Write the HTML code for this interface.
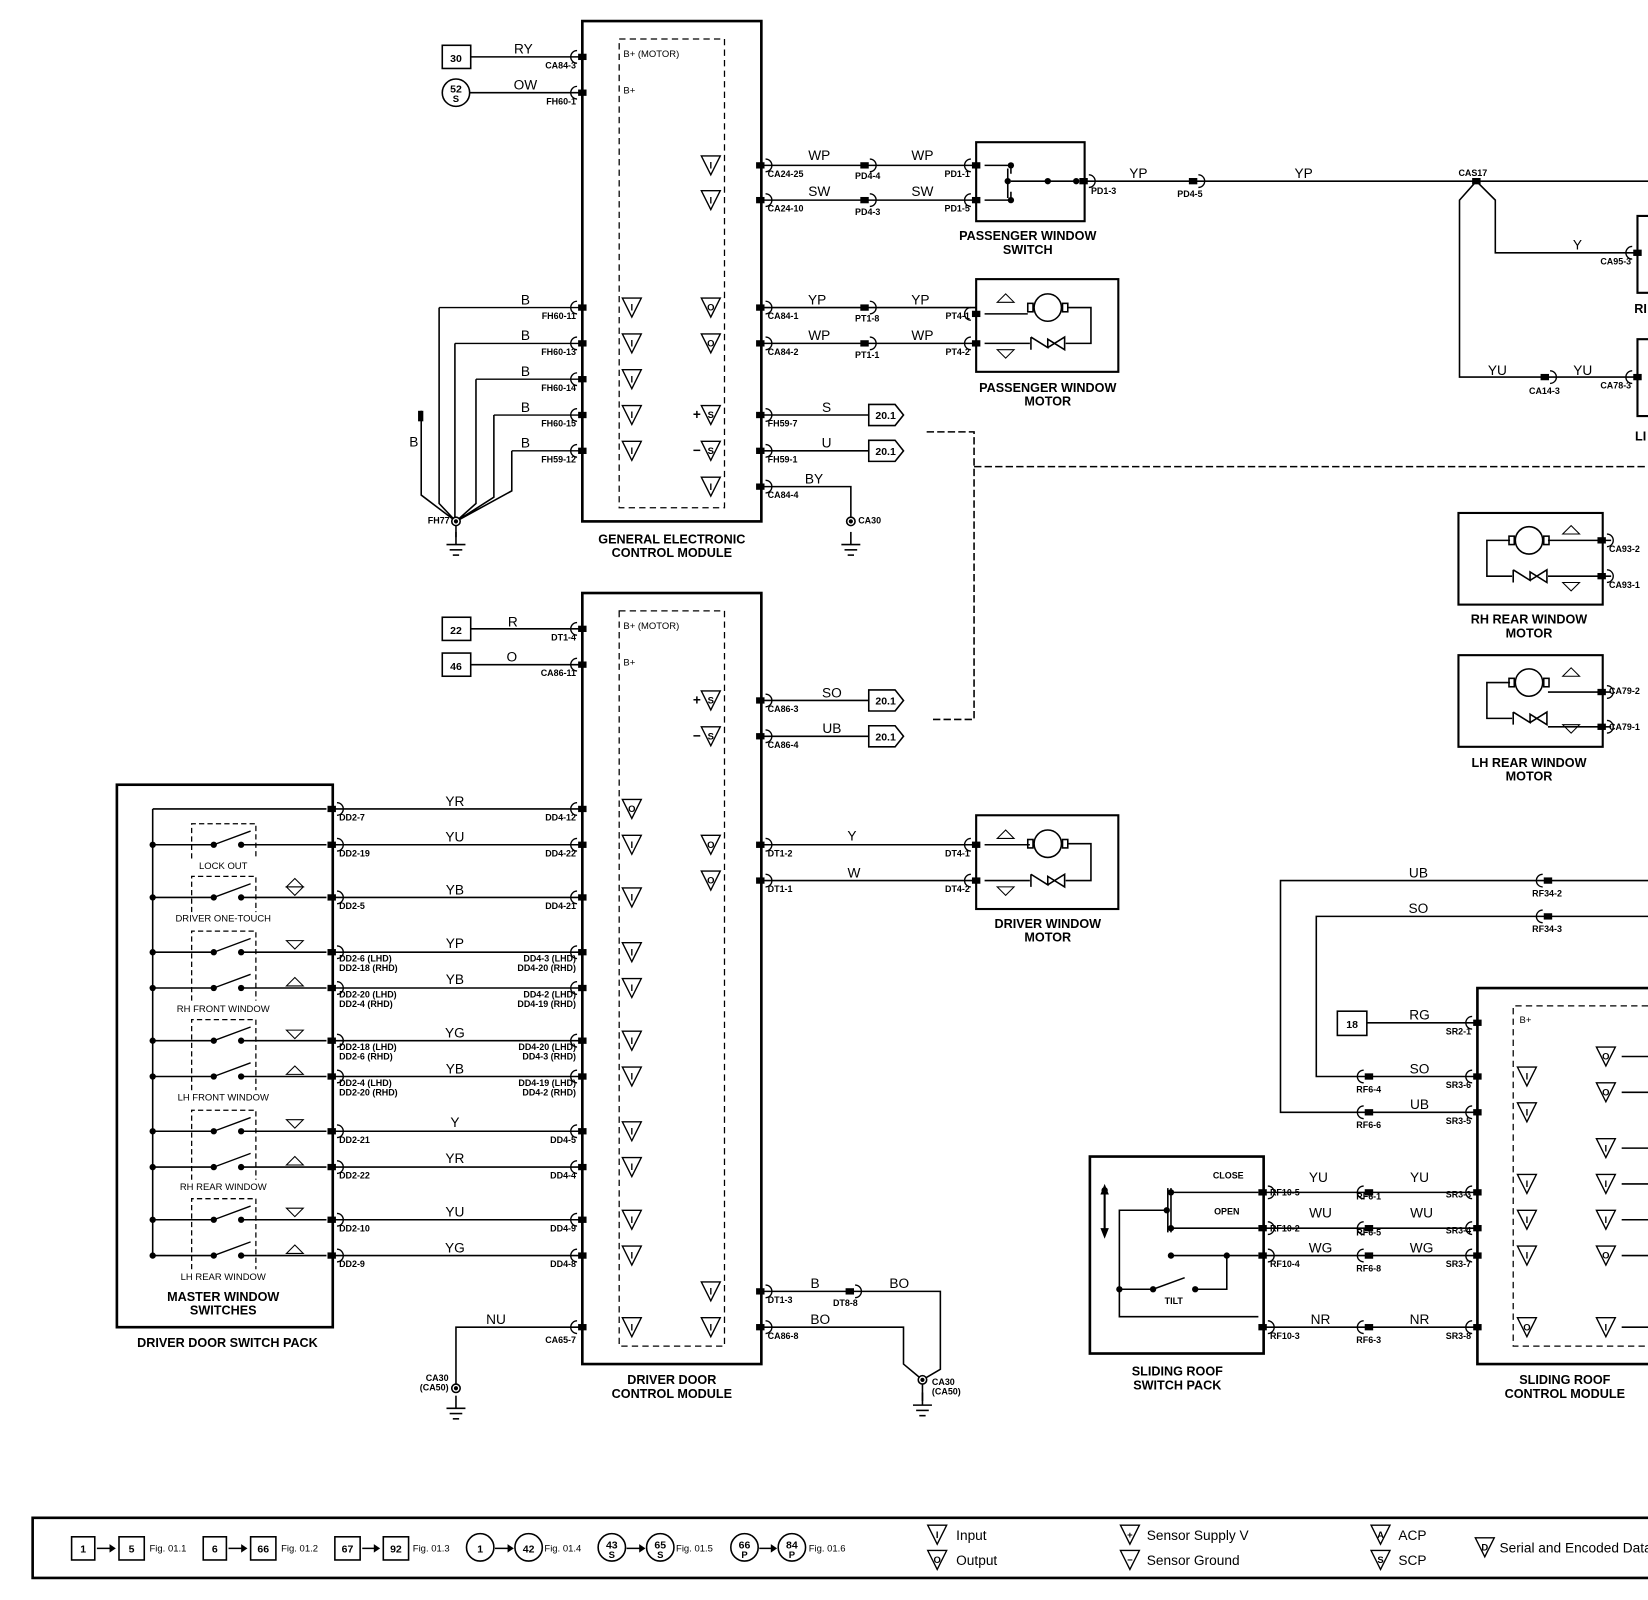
<!DOCTYPE html>
<html><head><meta charset="utf-8"><style>
html,body{margin:0;padding:0;background:#fff}
svg{display:block}
text{font-family:"Liberation Sans",sans-serif;fill:#000}
.w{font-size:13px}
.c{font-size:8.5px;font-weight:bold}
.t{font-size:12px;font-weight:bold}
.s{font-size:9px}
.g{font-size:10px;font-weight:bold}
.lg{font-family:"Liberation Serif",serif;font-size:13px}
</style></head><body>
<svg width="1648" height="1600" viewBox="0 0 1565 1519" preserveAspectRatio="none" xmlns="http://www.w3.org/2000/svg">
<defs>
<g id="pl"><path d="M0,-6 A6,6 0 0 0 0,6" fill="none" stroke="#000" stroke-width="1.3"/><rect x="1" y="-3" width="8" height="6"/></g>
<g id="pr"><rect x="-9" y="-3" width="8" height="6"/><path d="M0,-6 A6,6 0 0 1 0,6" fill="none" stroke="#000" stroke-width="1.3"/></g>
<g id="cr"><rect x="-9" y="-3" width="8" height="6"/><path d="M0,-6 A6,6 0 0 1 0,6" fill="none" stroke="#000" stroke-width="1.3"/></g>
<g id="tr"><polygon points="-9,-9 9,-9 0,9" fill="#fff" stroke="#000" stroke-width="1.3"/></g>
<g id="gnd"><line x1="0" y1="0" x2="0" y2="12" stroke="#000" stroke-width="1.5"/><line x1="-9" y1="12" x2="9" y2="12" stroke="#000" stroke-width="1.5"/><line x1="-6" y1="17" x2="6" y2="17" stroke="#000" stroke-width="1.5"/><line x1="-3" y1="22" x2="3" y2="22" stroke="#000" stroke-width="1.5"/></g>
<g id="dt"><circle r="3"/></g>
<g id="ar"><polygon points="-8,-4 8,-4 0,4" fill="none" stroke="#000"/></g>
<g id="au"><polygon points="-8,4 8,4 0,-4" fill="none" stroke="#000"/></g>
</defs>

<g stroke="#000" fill="none" stroke-width="1.5">
<rect x="553" y="20" width="170" height="475" stroke-width="2.5"/>
<rect x="588" y="37" width="100" height="445" stroke-dasharray="6,4" stroke-width="1.2"/>
<rect x="553" y="563" width="170" height="732" stroke-width="2.5"/>
<rect x="588" y="580" width="100" height="698" stroke-dasharray="6,4" stroke-width="1.2"/>
<rect x="420" y="43" width="27" height="22"/>
<circle cx="433" cy="88" r="13"/>
<rect x="420" y="586" width="27" height="22"/>
<rect x="420" y="620" width="27" height="22"/>
<rect x="1270" y="960" width="28" height="23"/>
<rect x="927" y="135" width="103" height="75" stroke-width="2"/>
<rect x="927" y="265" width="135" height="88" stroke-width="2"/>
<rect x="927" y="774" width="135" height="89" stroke-width="2"/>
<rect x="111" y="745" width="205" height="515" stroke-width="2.5"/>
<rect x="1035" y="1098" width="165" height="187" stroke-width="2.5"/>
<path d="M1565,938 H1403 V1295 H1565" stroke-width="2.5"/>
<path d="M1565,955 H1437 V1278 H1565" stroke-dasharray="6,4" stroke-width="1.2"/>
<rect x="1385" y="487" width="137" height="87" stroke-width="2"/>
<rect x="1385" y="622" width="137" height="87" stroke-width="2"/>
<path d="M1565,205 H1555 V278 H1565 M1565,322 H1555 V395 H1565" stroke-width="2"/>

<path d="M447,54 H553 M446,88 H553"/>
<path d="M417,292 H553 M432,326 H553 M452,360 H553 M469,394 H553 M486,428 H553" stroke-width="1.3"/>
<path d="M417,292 V478 L433,495 M432,326 V495 M452,360 V478 L433,495 M469,394 V472 L433,495 M486,428 V466 L433,495 M400,390 V470 L433,495"/>
<path d="M433,495 V510"/>
<path d="M723,157 H927 M723,190 H927 M723,292 H927 M723,326 H927 M723,394 H825 M723,428 H825 M723,462 H808 V495"/>
<path d="M935,157 H960 V165 M935,190 H960 V182 M960,172 H1022 M957,160 V188"/>
<path d="M1030,172 H1565"/>
<path d="M1402,172 L1386,190 V358 H1555 M1402,172 L1420,190 V240 H1555"/>
<path d="M825,384 H850 L858,394 L850,404 H825 Z M825,418 H850 L858,428 L850,438 H825 Z M825,655 H850 L858,665 L850,675 H825 Z M825,689 H850 L858,699 L850,709 H825 Z"/>
<path d="M880,410 H925 V683 H885 M925,443 H1565" stroke-dasharray="7,3"/>
<g>
<circle cx="995" cy="292" r="13"/><rect x="1009" y="288" width="5" height="8"/><rect x="976" y="288" width="5" height="8"/>
<path d="M935,298 H976 M1014,292 H1036 V326 H1012 M935,326 H978"/>
<path d="M979,320 L995,330 V322 L1011,332 V320 L995,330 M979,332 V320" />
</g>
<g>
<circle cx="995" cy="801" r="13"/><rect x="1009" y="797" width="5" height="8"/><rect x="976" y="797" width="5" height="8"/>
<path d="M935,802 H978 M1014,801 H1036 V836 H1012 M935,836 H978"/>
<path d="M979,830 L995,840 V832 L1011,842 V830 L995,840 M979,842 V830"/>
</g>
<g>
<circle cx="1452" cy="513" r="13"/><rect x="1433" y="509" width="5" height="8"/><rect x="1466" y="509" width="5" height="8"/>
<path d="M1434,513 H1412 V547 H1436 M1470,513 H1530 M1470,547 H1530"/>
<path d="M1437,541 L1453,551 V543 L1469,553 V541 L1453,551 M1437,553 V541"/>
</g>
<g>
<circle cx="1452" cy="648" r="13"/><rect x="1433" y="644" width="5" height="8"/><rect x="1466" y="644" width="5" height="8"/>
<path d="M1434,648 H1412 V682 H1436 M1470,657 H1530 M1470,690 H1530"/>
<path d="M1437,676 L1453,686 V678 L1469,688 V676 L1453,686 M1437,688 V676"/>
</g>
<path d="M447,597 H553 M447,631 H553"/>
<path d="M723,665 H825 M723,699 H825 M723,802 H927 M723,836 H927"/>
<path d="M723,1226 H893 V1300 L876,1310 M723,1260 H858 V1295 L876,1310 M553,1260 H433 V1318"/>
<path d="M876,1310 V1330"/>
<path d="M316,768 H553 M316,802 H553 M316,852 H553 M316,904 H553 M316,938 H553 M316,988 H553 M316,1022 H553 M316,1074 H553 M316,1108 H553 M316,1158 H553 M316,1192 H553"/>
<path d="M145,768 V1192 M145,768 H310"/>
<path d="M145,802 H203 M229,802 H310 M145,852 H203 M229,852 H310 M145,904 H203 M229,904 H310 M145,938 H203 M229,938 H310 M145,988 H203 M229,988 H310 M145,1022 H203 M229,1022 H310 M145,1074 H203 M229,1074 H310 M145,1108 H203 M229,1108 H310 M145,1158 H203 M229,1158 H310 M145,1192 H203 M229,1192 H310"/>
<path d="M203,802 L238,789 M203,852 L238,839 M203,904 L238,891 M203,938 L238,925 M203,988 L238,975 M203,1022 L238,1009 M203,1074 L238,1061 M203,1108 L238,1095 M203,1158 L238,1145 M203,1192 L238,1179" stroke-width="1.3"/>
<g stroke-dasharray="5,3" stroke-width="1.2">
<path d="M182,815 V782 H243 V815"/><path d="M182,866 V832 H243 V866"/><path d="M182,950 V884 H243 V950"/><path d="M182,1035 V968 H243 V1035"/><path d="M182,1120 V1054 H243 V1120"/><path d="M182,1205 V1138 H243 V1205"/>
</g>
<path d="M1565,836 H1216 V1056 H1403 M1565,870 H1250 V1022 H1403 M1298,971 H1403"/>
<path d="M1200,1132 H1403 M1200,1166 H1403 M1200,1192 H1403 M1200,1260 H1403"/>
<path d="M1112,1132 H1195 M1112,1166 H1195 M1112,1128 V1170 M1109,1128 V1170 M1108,1149 H1063 V1250 H1195 M1063,1224 H1095 L1125,1213 M1135,1224 H1165 V1192 H1195 M1112,1192 H1165"/>
<path d="M1049,1130 V1170" stroke-width="2"/>
<path d="M1540,1003 H1565 M1540,1037 H1565 M1540,1090 H1565 M1540,1124 H1565 M1540,1158 H1565 M1540,1192 H1565 M1540,1260 H1565"/>
<path d="M1565,1441 H31 V1498 H1565" stroke-width="2.5"/>
<rect x="68" y="1459" width="22" height="22"/><rect x="113" y="1459" width="24" height="22"/>
<rect x="193" y="1459" width="22" height="22"/><rect x="238" y="1459" width="24" height="22"/>
<rect x="318" y="1459" width="24" height="22"/><rect x="364" y="1459" width="24" height="22"/>
<circle cx="456" cy="1469" r="13"/><circle cx="502" cy="1469" r="13"/>
<circle cx="581" cy="1469" r="13"/><circle cx="627" cy="1469" r="13"/>
<circle cx="707" cy="1469" r="13"/><circle cx="752" cy="1469" r="13"/>
<path d="M92,1470 H108 M217,1470 H233 M344,1470 H359 M470,1470 H486 M595,1470 H611 M721,1470 H736"/>
</g>
<g>
<use href="#dt" x="1049" y="1130"/>
<polygon points="104,1466 110,1470 104,1474"/><polygon points="229,1466 235,1470 229,1474"/><polygon points="355,1466 361,1470 355,1474"/><polygon points="482,1466 488,1470 482,1474"/><polygon points="607,1466 613,1470 607,1474"/><polygon points="732,1466 738,1470 732,1474"/>
<polygon points="1045,1134 1049,1124 1053,1134"/><polygon points="1045,1166 1049,1176 1053,1166"/>
<rect x="397" y="390" width="5" height="10"/>
<circle cx="433" cy="495" r="4" fill="#fff" stroke="#000" stroke-width="1.5"/><circle cx="433" cy="495" r="2"/>
<circle cx="808" cy="495" r="4" fill="#fff" stroke="#000" stroke-width="1.5"/><circle cx="808" cy="495" r="2"/>
<circle cx="876" cy="1310" r="4" fill="#fff" stroke="#000" stroke-width="1.5"/><circle cx="876" cy="1310" r="2"/>
<circle cx="433" cy="1318" r="4" fill="#fff" stroke="#000" stroke-width="1.5"/><circle cx="433" cy="1318" r="2"/>
<rect x="1398" y="169" width="8" height="6"/>
<use href="#dt" x="960" y="157"/><use href="#dt" x="960" y="190"/><use href="#dt" x="995" y="172"/><use href="#dt" x="1022" y="172"/><use href="#dt" x="957" y="172"/>
<use href="#dt" x="145" y="802"/><use href="#dt" x="145" y="852"/><use href="#dt" x="145" y="904"/><use href="#dt" x="145" y="938"/><use href="#dt" x="145" y="988"/><use href="#dt" x="145" y="1022"/><use href="#dt" x="145" y="1074"/><use href="#dt" x="145" y="1108"/><use href="#dt" x="145" y="1158"/><use href="#dt" x="145" y="1192"/>
<use href="#dt" x="203" y="802"/><use href="#dt" x="229" y="802"/><use href="#dt" x="203" y="852"/><use href="#dt" x="229" y="852"/><use href="#dt" x="203" y="904"/><use href="#dt" x="229" y="904"/><use href="#dt" x="203" y="938"/><use href="#dt" x="229" y="938"/><use href="#dt" x="203" y="988"/><use href="#dt" x="229" y="988"/><use href="#dt" x="203" y="1022"/><use href="#dt" x="229" y="1022"/><use href="#dt" x="203" y="1074"/><use href="#dt" x="229" y="1074"/><use href="#dt" x="203" y="1108"/><use href="#dt" x="229" y="1108"/><use href="#dt" x="203" y="1158"/><use href="#dt" x="229" y="1158"/><use href="#dt" x="203" y="1192"/><use href="#dt" x="229" y="1192"/>
<use href="#dt" x="1112" y="1132"/><use href="#dt" x="1112" y="1166"/><use href="#dt" x="1108" y="1149"/><use href="#dt" x="1112" y="1192"/><use href="#dt" x="1165" y="1192"/><use href="#dt" x="1063" y="1224"/><use href="#dt" x="1095" y="1224"/><use href="#dt" x="1135" y="1224"/>
</g>
<use href="#gnd" x="433" y="505"/><use href="#gnd" x="808" y="505"/><use href="#gnd" x="876" y="1322"/><use href="#gnd" x="433" y="1325"/>
<g>
<use href="#pl" x="548" y="54"/><use href="#pl" x="548" y="88"/><use href="#pl" x="548" y="292"/><use href="#pl" x="548" y="326"/><use href="#pl" x="548" y="360"/><use href="#pl" x="548" y="394"/><use href="#pl" x="548" y="428"/>
<use href="#pl" x="548" y="597"/><use href="#pl" x="548" y="631"/><use href="#pl" x="548" y="768"/><use href="#pl" x="548" y="802"/><use href="#pl" x="548" y="852"/><use href="#pl" x="548" y="904"/><use href="#pl" x="548" y="938"/><use href="#pl" x="548" y="988"/><use href="#pl" x="548" y="1022"/><use href="#pl" x="548" y="1074"/><use href="#pl" x="548" y="1108"/><use href="#pl" x="548" y="1158"/><use href="#pl" x="548" y="1192"/><use href="#pl" x="548" y="1260"/>
<use href="#pl" x="922" y="157"/><use href="#pl" x="922" y="190"/><use href="#pl" x="922" y="298"/><use href="#pl" x="922" y="326"/><use href="#pl" x="922" y="802"/><use href="#pl" x="922" y="836"/>
<use href="#pl" x="1398" y="971"/><use href="#pl" x="1398" y="1022"/><use href="#pl" x="1398" y="1056"/><use href="#pl" x="1398" y="1132"/><use href="#pl" x="1398" y="1166"/><use href="#pl" x="1398" y="1192"/><use href="#pl" x="1398" y="1260"/>
<use href="#pl" x="1550" y="240"/><use href="#pl" x="1550" y="358"/>
<use href="#pl" x="1295" y="1022"/><use href="#pl" x="1295" y="1056"/><use href="#pl" x="1295" y="1132"/><use href="#pl" x="1295" y="1166"/><use href="#pl" x="1295" y="1192"/><use href="#pl" x="1295" y="1260"/>
<use href="#pl" x="1465" y="836"/><use href="#pl" x="1465" y="870"/>
<use href="#pr" x="727" y="157"/><use href="#pr" x="727" y="190"/><use href="#pr" x="727" y="292"/><use href="#pr" x="727" y="326"/><use href="#pr" x="727" y="394"/><use href="#pr" x="727" y="428"/><use href="#pr" x="727" y="462"/>
<use href="#pr" x="727" y="665"/><use href="#pr" x="727" y="699"/><use href="#pr" x="727" y="802"/><use href="#pr" x="727" y="836"/><use href="#pr" x="727" y="1226"/><use href="#pr" x="727" y="1260"/>
<use href="#pr" x="1034" y="172"/><use href="#pr" x="1526" y="513"/><use href="#pr" x="1526" y="547"/><use href="#pr" x="1526" y="657"/><use href="#pr" x="1526" y="690"/>
<use href="#pr" x="320" y="768"/><use href="#pr" x="320" y="802"/><use href="#pr" x="320" y="852"/><use href="#pr" x="320" y="904"/><use href="#pr" x="320" y="938"/><use href="#pr" x="320" y="988"/><use href="#pr" x="320" y="1022"/><use href="#pr" x="320" y="1074"/><use href="#pr" x="320" y="1108"/><use href="#pr" x="320" y="1158"/><use href="#pr" x="320" y="1192"/>
<use href="#pr" x="1204" y="1132"/><use href="#pr" x="1204" y="1166"/><use href="#pr" x="1204" y="1192"/><use href="#pr" x="1204" y="1260"/>
<use href="#cr" x="826" y="157"/><use href="#cr" x="826" y="190"/><use href="#cr" x="826" y="292"/><use href="#cr" x="826" y="326"/><use href="#cr" x="1138" y="172"/><use href="#cr" x="1472" y="358"/><use href="#cr" x="812" y="1226"/>
</g>
<g>
<use href="#tr" x="600" y="292"/><use href="#tr" x="600" y="326"/><use href="#tr" x="600" y="360"/><use href="#tr" x="600" y="394"/><use href="#tr" x="600" y="428"/>
<use href="#tr" x="675" y="157"/><use href="#tr" x="675" y="190"/><use href="#tr" x="675" y="292"/><use href="#tr" x="675" y="326"/><use href="#tr" x="675" y="394"/><use href="#tr" x="675" y="428"/><use href="#tr" x="675" y="462"/>
<use href="#tr" x="600" y="768"/><use href="#tr" x="600" y="802"/><use href="#tr" x="600" y="852"/><use href="#tr" x="600" y="904"/><use href="#tr" x="600" y="938"/><use href="#tr" x="600" y="988"/><use href="#tr" x="600" y="1022"/><use href="#tr" x="600" y="1074"/><use href="#tr" x="600" y="1108"/><use href="#tr" x="600" y="1158"/><use href="#tr" x="600" y="1192"/><use href="#tr" x="600" y="1260"/>
<use href="#tr" x="675" y="665"/><use href="#tr" x="675" y="699"/><use href="#tr" x="675" y="802"/><use href="#tr" x="675" y="836"/><use href="#tr" x="675" y="1226"/><use href="#tr" x="675" y="1260"/>
<use href="#tr" x="1450" y="1022"/><use href="#tr" x="1450" y="1056"/><use href="#tr" x="1450" y="1124"/><use href="#tr" x="1450" y="1158"/><use href="#tr" x="1450" y="1192"/><use href="#tr" x="1450" y="1260"/>
<use href="#tr" x="1525" y="1003"/><use href="#tr" x="1525" y="1037"/><use href="#tr" x="1525" y="1090"/><use href="#tr" x="1525" y="1124"/><use href="#tr" x="1525" y="1158"/><use href="#tr" x="1525" y="1192"/><use href="#tr" x="1525" y="1260"/>
<use href="#tr" x="890" y="1457"/><use href="#tr" x="890" y="1481"/><use href="#tr" x="1073" y="1457"/><use href="#tr" x="1073" y="1481"/><use href="#tr" x="1311" y="1457"/><use href="#tr" x="1311" y="1481"/><use href="#tr" x="1410" y="1469"/>
<use href="#au" x="955" y="283"/><use href="#ar" x="955" y="336"/><use href="#au" x="955" y="792"/><use href="#ar" x="955" y="846"/>
<use href="#au" x="1492" y="503"/><use href="#ar" x="1492" y="557"/><use href="#au" x="1492" y="638"/><use href="#ar" x="1492" y="692"/>
<use href="#au" x="280" y="838"/><use href="#ar" x="280" y="846"/>
<use href="#ar" x="280" y="897"/><use href="#au" x="280" y="932"/><use href="#ar" x="280" y="982"/><use href="#au" x="280" y="1016"/><use href="#ar" x="280" y="1067"/><use href="#au" x="280" y="1102"/><use href="#ar" x="280" y="1151"/><use href="#au" x="280" y="1186"/>
</g>
<g class="s" text-anchor="middle" font-weight="bold">
<text x="600" y="295">I</text><text x="600" y="329">I</text><text x="600" y="363">I</text><text x="600" y="397">I</text><text x="600" y="431">I</text>
<text x="675" y="160">I</text><text x="675" y="193">I</text><text x="675" y="295">O</text><text x="675" y="329">O</text><text x="675" y="397">S</text><text x="675" y="431">S</text><text x="675" y="465">I</text>
<text x="600" y="771">O</text><text x="600" y="805">I</text><text x="600" y="855">I</text><text x="600" y="907">I</text><text x="600" y="941">I</text><text x="600" y="991">I</text><text x="600" y="1025">I</text><text x="600" y="1077">I</text><text x="600" y="1111">I</text><text x="600" y="1161">I</text><text x="600" y="1195">I</text><text x="600" y="1263">I</text>
<text x="675" y="668">S</text><text x="675" y="702">S</text><text x="675" y="805">O</text><text x="675" y="839">O</text><text x="675" y="1229">I</text><text x="675" y="1263">I</text>
<text x="1450" y="1025">I</text><text x="1450" y="1059">I</text><text x="1450" y="1127">I</text><text x="1450" y="1161">I</text><text x="1450" y="1195">I</text><text x="1450" y="1263">O</text>
<text x="1525" y="1006">O</text><text x="1525" y="1040">O</text><text x="1525" y="1093">I</text><text x="1525" y="1127">I</text><text x="1525" y="1161">I</text><text x="1525" y="1195">O</text><text x="1525" y="1263">I</text>
<text x="890" y="1460">I</text><text x="890" y="1484">O</text><text x="1073" y="1460">+</text><text x="1073" y="1484">−</text><text x="1311" y="1460">A</text><text x="1311" y="1484">S</text><text x="1410" y="1472">D</text>
</g>
<g class="w" font-weight="bold"><text x="658" y="398">+</text><text x="658" y="432">−</text><text x="658" y="669">+</text><text x="658" y="703">−</text></g>

<g class="s"><text x="592" y="54">B+ (MOTOR)</text><text x="592" y="89">B+</text><text x="592" y="597">B+ (MOTOR)</text><text x="592" y="632">B+</text><text x="1443" y="971">B+</text></g>
<g class="g" text-anchor="middle"><text x="433" y="59">30</text><text x="433" y="88">52</text><text x="433" y="97" class="s">S</text><text x="433" y="602">22</text><text x="433" y="636">46</text><text x="1284" y="976">18</text>
<text x="841" y="398">20.1</text><text x="841" y="432">20.1</text><text x="841" y="669">20.1</text><text x="841" y="703">20.1</text></g>

<g class="w" text-anchor="middle">
<text x="497" y="51">RY</text><text x="499" y="85">OW</text>
<text x="499" y="289">B</text><text x="499" y="323">B</text><text x="499" y="357">B</text><text x="499" y="391">B</text><text x="499" y="425">B</text><text x="393" y="424">B</text>
<text x="778" y="152">WP</text><text x="876" y="152">WP</text><text x="778" y="186">SW</text><text x="876" y="186">SW</text>
<text x="776" y="289">YP</text><text x="874" y="289">YP</text><text x="778" y="323">WP</text><text x="876" y="323">WP</text>
<text x="785" y="391">S</text><text x="785" y="425">U</text><text x="773" y="459">BY</text>
<text x="1081" y="169">YP</text><text x="1238" y="169">YP</text><text x="1498" y="237">Y</text><text x="1422" y="356">YU</text><text x="1503" y="356">YU</text>
<text x="487" y="595">R</text><text x="486" y="628">O</text>
<text x="790" y="662">SO</text><text x="790" y="696">UB</text><text x="809" y="798">Y</text><text x="811" y="833">W</text>
<text x="774" y="1223">B</text><text x="854" y="1223">BO</text><text x="779" y="1257">BO</text><text x="471" y="1257">NU</text>
<text x="432" y="765">YR</text><text x="432" y="799">YU</text><text x="432" y="849">YB</text><text x="432" y="900">YP</text><text x="432" y="934">YB</text><text x="432" y="985">YG</text><text x="432" y="1019">YB</text><text x="432" y="1070">Y</text><text x="432" y="1104">YR</text><text x="432" y="1155">YU</text><text x="432" y="1189">YG</text>
<text x="1347" y="833">UB</text><text x="1347" y="867">SO</text><text x="1348" y="968">RG</text><text x="1348" y="1019">SO</text><text x="1348" y="1053">UB</text>
<text x="1252" y="1122">YU</text><text x="1348" y="1122">YU</text><text x="1254" y="1156">WU</text><text x="1350" y="1156">WU</text><text x="1254" y="1189">WG</text><text x="1350" y="1189">WG</text><text x="1254" y="1257">NR</text><text x="1348" y="1257">NR</text>
</g>

<g class="c" text-anchor="end">
<text x="547" y="65">CA84-3</text><text x="547" y="99">FH60-1</text>
<text x="547" y="303">FH60-11</text><text x="547" y="337">FH60-13</text><text x="547" y="371">FH60-14</text><text x="547" y="405">FH60-15</text><text x="547" y="439">FH59-12</text>
<text x="427" y="497">FH77</text>
<text x="547" y="608">DT1-4</text><text x="547" y="642">CA86-11</text>
<text x="921" y="168">PD1-1</text><text x="921" y="201">PD1-5</text><text x="921" y="303">PT4-1</text><text x="921" y="337">PT4-2</text><text x="921" y="813">DT4-1</text><text x="921" y="847">DT4-2</text>
<text x="1549" y="251">CA95-3</text><text x="1549" y="369">CA78-3</text>
<text x="547" y="779">DD4-12</text><text x="547" y="813">DD4-22</text><text x="547" y="863">DD4-21</text>
<text x="547" y="913">DD4-3 (LHD)</text><text x="547" y="922">DD4-20 (RHD)</text><text x="547" y="947">DD4-2 (LHD)</text><text x="547" y="956">DD4-19 (RHD)</text>
<text x="547" y="997">DD4-20 (LHD)</text><text x="547" y="1006">DD4-3 (RHD)</text><text x="547" y="1031">DD4-19 (LHD)</text><text x="547" y="1040">DD4-2 (RHD)</text>
<text x="547" y="1085">DD4-5</text><text x="547" y="1119">DD4-4</text><text x="547" y="1169">DD4-9</text><text x="547" y="1203">DD4-8</text><text x="547" y="1275">CA65-7</text>
<text x="426" y="1311">CA30</text><text x="426" y="1320">(CA50)</text>
<text x="1397" y="982">SR2-1</text><text x="1397" y="1033">SR3-6</text><text x="1397" y="1067">SR3-5</text><text x="1397" y="1137">SR3-3</text><text x="1397" y="1171">SR3-4</text><text x="1397" y="1203">SR3-7</text><text x="1397" y="1271">SR3-8</text>
<text x="1181" y="1119">CLOSE</text><text x="1177" y="1153">OPEN</text>
</g>
<g class="c">
<text x="729" y="168">CA24-25</text><text x="729" y="201">CA24-10</text><text x="729" y="303">CA84-1</text><text x="729" y="337">CA84-2</text><text x="729" y="405">FH59-7</text><text x="729" y="439">FH59-1</text><text x="729" y="473">CA84-4</text>
<text x="815" y="497">CA30</text>
<text x="729" y="676">CA86-3</text><text x="729" y="710">CA86-4</text><text x="729" y="813">DT1-2</text><text x="729" y="847">DT1-1</text><text x="729" y="1237">DT1-3</text><text x="729" y="1271">CA86-8</text>
<text x="885" y="1315">CA30</text><text x="885" y="1324">(CA50)</text>
<text x="812" y="170">PD4-4</text><text x="812" y="204">PD4-3</text><text x="812" y="305">PT1-8</text><text x="812" y="340">PT1-1</text><text x="1036" y="184">PD1-3</text><text x="1118" y="187">PD4-5</text>
<text x="1385" y="167">CAS17</text><text x="1452" y="374">CA14-3</text><text x="791" y="1240">DT8-8</text>
<text x="1528" y="524">CA93-2</text><text x="1528" y="558">CA93-1</text><text x="1528" y="659">CA79-2</text><text x="1528" y="693">CA79-1</text>
<text x="322" y="779">DD2-7</text><text x="322" y="813">DD2-19</text><text x="322" y="863">DD2-5</text>
<text x="322" y="913">DD2-6 (LHD)</text><text x="322" y="922">DD2-18 (RHD)</text><text x="322" y="947">DD2-20 (LHD)</text><text x="322" y="956">DD2-4 (RHD)</text>
<text x="322" y="997">DD2-18 (LHD)</text><text x="322" y="1006">DD2-6 (RHD)</text><text x="322" y="1031">DD2-4 (LHD)</text><text x="322" y="1040">DD2-20 (RHD)</text>
<text x="322" y="1085">DD2-21</text><text x="322" y="1119">DD2-22</text><text x="322" y="1169">DD2-10</text><text x="322" y="1203">DD2-9</text>
<text x="1206" y="1135">RF10-5</text><text x="1206" y="1169">RF10-2</text><text x="1206" y="1203">RF10-4</text><text x="1206" y="1271">RF10-3</text>
<text x="1288" y="1037">RF6-4</text><text x="1288" y="1071">RF6-6</text><text x="1288" y="1139">RF6-1</text><text x="1288" y="1173">RF6-5</text><text x="1288" y="1207">RF6-8</text><text x="1288" y="1275">RF6-3</text>
<text x="1455" y="851">RF34-2</text><text x="1455" y="885">RF34-3</text>
<text x="1106" y="1238">TILT</text>
</g>
<g class="s" text-anchor="middle"><text x="212" y="825">LOCK OUT</text><text x="212" y="875">DRIVER ONE-TOUCH</text><text x="212" y="961">RH FRONT WINDOW</text><text x="212" y="1045">LH FRONT WINDOW</text><text x="212" y="1130">RH REAR WINDOW</text><text x="212" y="1215">LH REAR WINDOW</text></g>

<g class="t" text-anchor="middle">
<text x="638" y="516">GENERAL ELECTRONIC</text><text x="638" y="529">CONTROL MODULE</text>
<text x="976" y="228">PASSENGER WINDOW</text><text x="976" y="241">SWITCH</text>
<text x="995" y="372">PASSENGER WINDOW</text><text x="995" y="385">MOTOR</text>
<text x="995" y="881">DRIVER WINDOW</text><text x="995" y="894">MOTOR</text>
<text x="1452" y="592">RH REAR WINDOW</text><text x="1452" y="605">MOTOR</text>
<text x="1452" y="728">LH REAR WINDOW</text><text x="1452" y="741">MOTOR</text>
<text x="212" y="1235">MASTER WINDOW</text><text x="212" y="1248">SWITCHES</text>
<text x="216" y="1279">DRIVER DOOR SWITCH PACK</text>
<text x="638" y="1314">DRIVER DOOR</text><text x="638" y="1327">CONTROL MODULE</text>
<text x="1118" y="1306">SLIDING ROOF</text><text x="1118" y="1319">SWITCH PACK</text>
<text x="1486" y="1314">SLIDING ROOF</text><text x="1486" y="1327">CONTROL MODULE</text>
<text x="1558" y="297">RI</text><text x="1558" y="418">LI</text>
</g>

<g class="g" text-anchor="middle">
<text x="79" y="1474">1</text><text x="125" y="1474">5</text><text x="204" y="1474">6</text><text x="250" y="1474">66</text><text x="330" y="1474">67</text><text x="376" y="1474">92</text>
<text x="456" y="1474">1</text><text x="502" y="1474">42</text><text x="581" y="1470">43</text><text x="627" y="1470">65</text><text x="707" y="1470">66</text><text x="752" y="1470">84</text>
<text x="581" y="1479" class="s">S</text><text x="627" y="1479" class="s">S</text><text x="707" y="1479" class="s">P</text><text x="752" y="1479" class="s">P</text>
</g>
<g class="s" font-family="Liberation Serif"><text x="142" y="1473">Fig. 01.1</text><text x="267" y="1473">Fig. 01.2</text><text x="392" y="1473">Fig. 01.3</text><text x="517" y="1473">Fig. 01.4</text><text x="642" y="1473">Fig. 01.5</text><text x="768" y="1473">Fig. 01.6</text></g>
<g class="lg"><text x="908" y="1462">Input</text><text x="908" y="1486">Output</text><text x="1089" y="1462">Sensor Supply V</text><text x="1089" y="1486">Sensor Ground</text><text x="1328" y="1462">ACP</text><text x="1328" y="1486">SCP</text><text x="1424" y="1474">Serial and Encoded Data</text></g>
</svg>
</body></html>
